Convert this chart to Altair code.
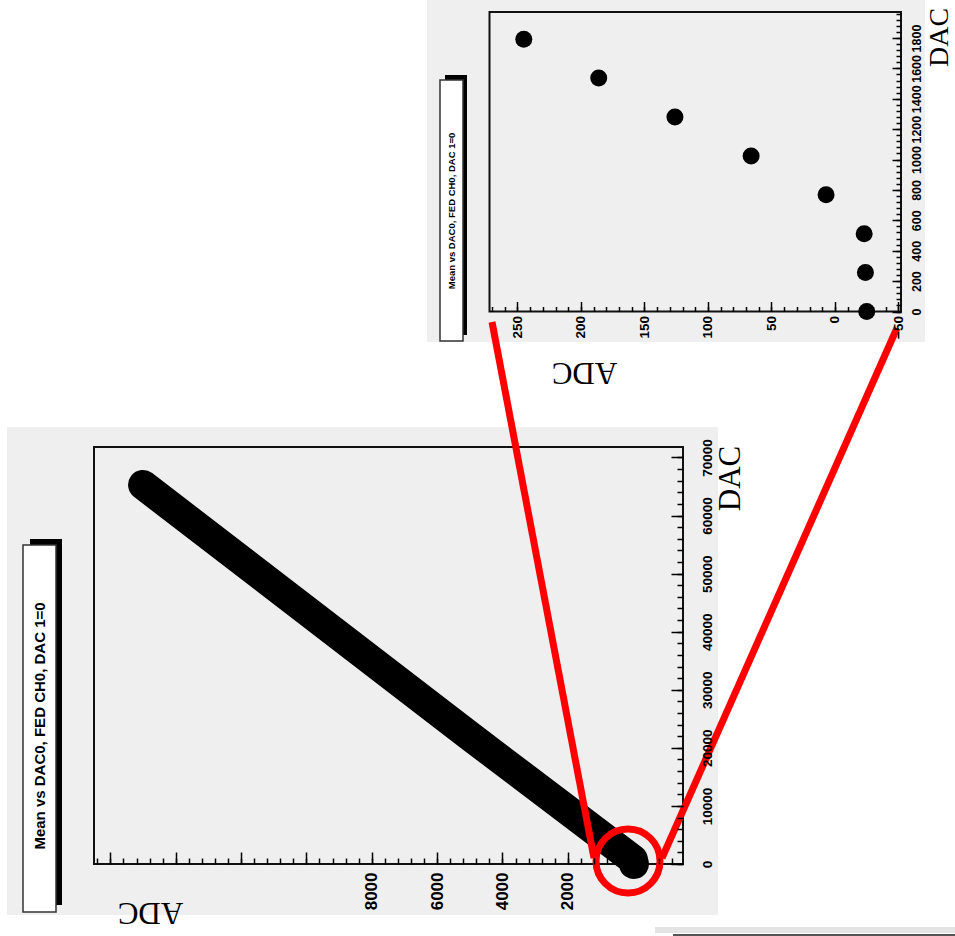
import altair as alt
import pandas as pd

# ---------------- data ----------------
small_dac = [0, 256, 512, 768, 1024, 1280, 1536, 1792]
small_adc = [-25, -24, -23, 7, 66, 126, 186, 245]

big_dac = [0, 768, 22000, 65280]
big_adc = [-25, 7, 4990, 15000]

title_text = "Mean vs DAC0, FED CH0, DAC 1=0"

big_adc_labels = [2000, 4000, 6000, 8000]
big_adc_major = [0, 2000, 4000, 6000, 8000, 10000, 12000, 14000, 16000]
big_adc_minor = list(range(-1200, 16401, 400))
big_dac_labels = [0, 10000, 20000, 30000, 40000, 50000, 60000, 70000]
big_dac_minor = list(range(0, 70001, 2000))

small_adc_labels = [-50, 0, 50, 100, 150, 200, 250]
small_adc_minor = list(range(-50, 271, 10))
small_dac_labels = [0, 200, 400, 600, 800, 1000, 1200, 1400, 1600, 1800]
small_dac_minor = list(range(0, 1961, 40))

big_df = pd.DataFrame({"dac": big_dac, "adc": big_adc})
small_df = pd.DataFrame({"dac": small_dac, "adc": small_adc})
one = pd.DataFrame({"k": [0]})

# ---------------- layout ----------------
W, H = 955, 936
BL, BR, BT, BB = 94, 683, 447, 864          # big frame
SL, SR, ST, SB = 489.5, 901, 12, 311.5      # small frame
PAD = "#efefef"
SANS = "Liberation Sans"
SERIF = "Liberation Serif"

big_x = alt.Scale(domain=[-1527, 16502], range=[BR, BL], nice=False, zero=False)
big_y = alt.Scale(domain=[0, 71808], range=[BB, BT], nice=False, zero=False)
small_x = alt.Scale(domain=[-52, 272], range=[SR, SL], nice=False, zero=False)
small_y = alt.Scale(domain=[0, 1971], range=[SB, ST], nice=False, zero=False)


def tick_axis(orient, offset, values, size):
    return alt.Axis(orient=orient, offset=offset, values=values, tickSize=size,
                    tickWidth=1.5, tickColor="black", labels=False, domain=False,
                    grid=False, title=None, zindex=2)


def label_axis(orient, offset, values, fsize, pad, align, baseline,
               title, tx, ty, tangle, tsize=31):
    return alt.Axis(orient=orient, offset=offset, values=values, ticks=False,
                    format="d",
                    domain=False, grid=False, labelAngle=270, labelFont=SANS,
                    labelFontSize=fsize, labelColor="black", labelPadding=pad,
                    labelFontWeight="bold",
                    labelOverlap=False, labelFlush=False, labelBound=False,
                    labelAlign=align, labelBaseline=baseline,
                    title=title, titleX=tx, titleY=ty, titleAngle=tangle,
                    titleFont=SERIF, titleFontSize=tsize, titleFontWeight="normal",
                    titleColor="black", titleAlign="center",
                    titleBaseline="middle", zindex=2)


def rect(x, x2, y, y2, **kw):
    return alt.Chart(one).mark_rect(**kw).encode(
        x=alt.value(x), x2=alt.value(x2), y=alt.value(y), y2=alt.value(y2))


def rule(x, y, x2, y2, **kw):
    return alt.Chart(one).mark_rule(**kw).encode(
        x=alt.value(x), y=alt.value(y), x2=alt.value(x2), y2=alt.value(y2))


# pads (dotted grey background)
pads = [
    rect(7, 718, 427, 915, fill=PAD),
    rect(427, 925, 0, 342, fill=PAD),
    rect(655, 955, 927, 933, fill="#e4e4e4"),
]

# title boxes with shadow
boxes = [
    rect(30, 62, 539, 905, fill="black"),
    rect(23, 56, 545, 912, fill="white", stroke="#333333", strokeWidth=1.5),
    rect(445, 467, 75, 335, fill="black"),
    rect(440, 463, 80, 341, fill="white", stroke="#333333", strokeWidth=1.5),
]
box_text = [
    alt.Chart(one).mark_text(angle=270, font=SANS, fontSize=15, color="black",
                             fontWeight="bold",
                             align="center", baseline="middle").encode(
        x=alt.value(40), y=alt.value(726), text=alt.value(title_text)),
    alt.Chart(one).mark_text(angle=270, font=SANS, fontSize=9.5, color="black",
                             fontWeight="bold",
                             align="center", baseline="middle").encode(
        x=alt.value(452), y=alt.value(211), text=alt.value(title_text)),
]

# frames
frames = [
    rect(BL, BR, BT, BB, fillOpacity=0, stroke="#111111", strokeWidth=2),
    rect(SL, SR, ST, SB, fillOpacity=0, stroke="#111111", strokeWidth=2),
]

# ---- big plot ----
big_major = alt.Chart(big_df).mark_point(opacity=0).encode(
    x=alt.X("adc:Q", scale=big_x, axis=tick_axis("top", -BB, big_adc_major, 12)),
    y=alt.Y("dac:Q", scale=big_y, axis=tick_axis("left", -BR, big_dac_labels, 12)),
)
big_minor = alt.Chart(big_df).mark_point(opacity=0).encode(
    x=alt.X("adc:Q", scale=big_x, axis=tick_axis("top", -BB, big_adc_minor, 6)),
    y=alt.Y("dac:Q", scale=big_y, axis=tick_axis("left", -BR, big_dac_minor, 6)),
)
big_line = alt.Chart(big_df).mark_line(
    color="black", strokeWidth=30, strokeCap="round", strokeJoin="round").encode(
    x=alt.X("adc:Q", scale=big_x,
            axis=label_axis("bottom", BB - H, big_adc_labels, 17, 8, "right",
                            "middle", "ADC", 150, 47, 180)),
    y=alt.Y("dac:Q", scale=big_y,
            axis=label_axis("right", BR - W, big_dac_labels, 13.5, 17, "center",
                            "top", "DAC", 47, 478, 270)),
    order="dac:Q",
)

# ---- small plot ----
small_major = alt.Chart(small_df).mark_point(opacity=0).encode(
    x=alt.X("adc:Q", scale=small_x, axis=tick_axis("top", -SB, small_adc_labels, 10)),
    y=alt.Y("dac:Q", scale=small_y, axis=tick_axis("left", -SR, small_dac_labels, 9)),
)
small_minor = alt.Chart(small_df).mark_point(opacity=0).encode(
    x=alt.X("adc:Q", scale=small_x, axis=tick_axis("top", -SB, small_adc_minor, 5)),
    y=alt.Y("dac:Q", scale=small_y, axis=tick_axis("left", -SR, small_dac_minor, 5)),
)
small_pts = alt.Chart(small_df).mark_circle(size=289, color="black", opacity=1).encode(
    x=alt.X("adc:Q", scale=small_x,
            axis=label_axis("bottom", SB - H, small_adc_labels, 13.5, 4, "right",
                            "middle", "ADC", 584, 59.5, 180)),
    y=alt.Y("dac:Q", scale=small_y,
            axis=label_axis("right", SR - W, small_dac_labels, 12.5, 9, "center",
                            "top", "DAC", 38, 37, 270, 28)),
)

# ---- red zoom annotation ----
red = [
    rule(492, 322, 594, 858, color="#ff0000", strokeWidth=7),
    rule(897, 328, 662, 858, color="#ff0000", strokeWidth=7),
    alt.Chart(one).mark_point(shape="circle", filled=False, size=4096,
                              color="#ff0000", strokeWidth=7, opacity=1).encode(
        x=alt.value(628), y=alt.value(861)),
    rule(673, 935, 955, 935, color="#555555", strokeWidth=2),
]

layers = pads + boxes + box_text + frames + [
    big_major, big_minor, big_line, small_major, small_minor, small_pts] + red

chart = alt.layer(*layers).resolve_scale(
    x="independent", y="independent"
).resolve_axis(
    x="independent", y="independent"
).properties(
    width=W, height=H, padding=0, autosize="none", background="white"
).configure_view(strokeWidth=0)

chart.save("out.html", embed_options={"renderer": "svg", "actions": False})
